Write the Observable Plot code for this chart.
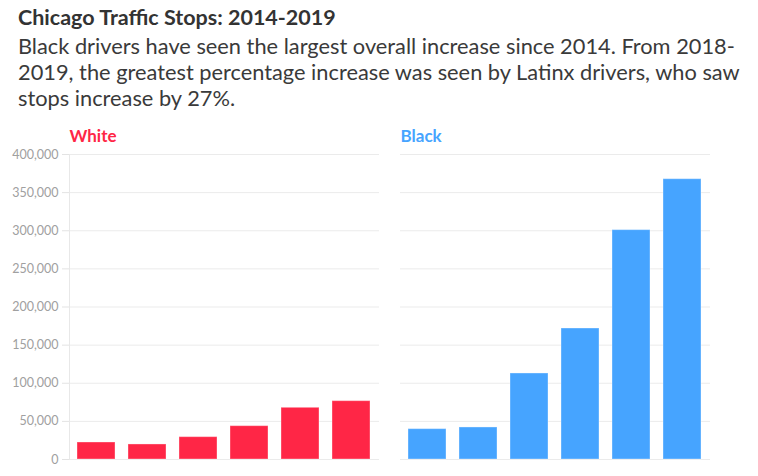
<!DOCTYPE html>
<html>
<head>
<meta charset="utf-8">
<script src="https://cdn.jsdelivr.net/npm/d3@7"></script>
<script src="https://cdn.jsdelivr.net/npm/@observablehq/plot@0.6"></script>
<style>
  html, body { margin: 0; padding: 0; background: #fff; overflow: hidden; }
  #header { padding: 5px 0 0 18px; font-family: Lato, "Open Sans", sans-serif; color: #333; }
  #title { font-size: 21.5px; font-weight: bold; line-height: 25px; margin: 0 0 3px 0; }
  #subtitle { font-size: 21.8px; line-height: 26px; margin: 0; white-space: nowrap; color: #3a3a3a; }
  #chart svg { display: block; }
</style>
</head>
<body>
<div id="header">
  <div id="title">Chicago Traffic Stops: 2014-2019</div>
  <div id="subtitle">Black drivers have seen the largest overall increase since 2014. From 2018-<br>2019, the greatest percentage increase was seen by Latinx drivers, who saw<br>stops increase by 27%.</div>
</div>
<div id="chart"></div>
<script>
const years = ["2014", "2015", "2016", "2017", "2018", "2019"];
const groups = ["White", "Black"];
const groupColors = ["#ff2646", "#46a4ff"];
const whiteStops = [22300, 19700, 29300, 43700, 67800, 76500];
const blackStops = [39800, 42000, 112800, 171800, 300800, 367600];
const yTicks = [0, 50000, 100000, 150000, 200000, 250000, 300000, 350000, 400000];

const colorOf = g => groupColors[groups.indexOf(g)];
const rows = [
  ...years.map((y, i) => ({group: "White", year: y, stops: whiteStops[i]})),
  ...years.map((y, i) => ({group: "Black", year: y, stops: blackStops[i]}))
];

const chart = Plot.plot({
  width: 758,
  height: 365,
  marginTop: 43,
  marginBottom: 17,
  marginLeft: 69,
  marginRight: 47,
  style: {fontFamily: "Lato, 'Open Sans', sans-serif", background: "#fff"},
  fx: {domain: groups, padding: 0.0633, axis: null},
  x: {domain: years, paddingInner: 0.25, paddingOuter: 0.125, axis: null},
  y: {domain: [0, 400000], axis: null},
  marks: [
    Plot.gridY(yTicks, {stroke: "#ebebeb", strokeOpacity: 1}),
    Plot.frame({anchor: "left", stroke: "#e8e8e8", facetAnchor: "left"}),
    Plot.axisY(yTicks, {tickSize: 7, tickFormat: () => "", stroke: "#e3e3e3", label: null}),
    Plot.axisY(yTicks, {tickSize: 0, tickPadding: 11, tickFormat: d3.format(","), fill: "#a0a0a0", fontSize: 12.5, label: null}),
    Plot.barY(rows, {fx: "group", x: "year", y: "stops", fill: d => colorOf(d.group), stroke: "#fff", strokeOpacity: 0.35, strokeWidth: 1}),
    Plot.text(groups, {fx: d => d, text: d => d, fill: d => colorOf(d), frameAnchor: "top-left", dy: -25, fontWeight: "bold", fontSize: 17})
  ]
});
document.getElementById("chart").appendChild(chart);
</script>
</body>
</html>
